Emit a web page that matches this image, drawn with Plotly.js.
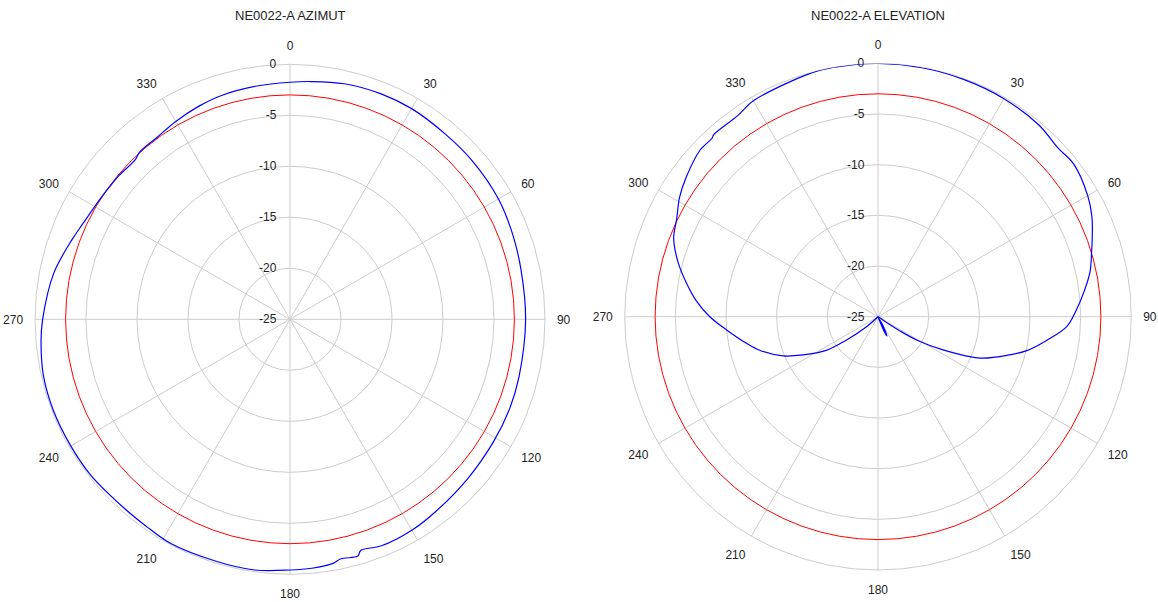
<!DOCTYPE html>
<html>
<head>
<meta charset="utf-8">
<script src="https://cdn.plot.ly/plotly-3.0.1.min.js"></script>
<style>html,body{margin:0;padding:0;background:#fff;}#chart{width:1158px;height:602px;}</style>
</head>
<body>
<div id="chart"></div>
<script>
// ---- data ----
const ANGLE_TICKS = [0, 30, 60, 90, 120, 150, 180, 210, 240, 270, 300, 330];
const RING_TICKS = [-25, -20, -15, -10, -5, 0];
const REF_LEVEL = -3;

const AZ_THETA = [0, 5, 13, 22, 30, 40, 49, 60, 69, 78, 90, 104, 112, 121, 132, 143, 150, 158, 163, 164, 168, 170, 175, 180, 188, 197, 208, 215, 221, 232, 240, 249, 257, 265, 270, 281, 290, 295, 302, 306, 310, 316, 318, 324, 330, 337, 343, 352, 360];
const AZ_GAIN  = [-1.76, -1.6, -1.3, -1.16, -1.15, -1.3, -1.32, -1.4, -1.63, -1.84, -1.9, -1.85, -1.75, -1.72, -1.6, -1.35, -1.12, -1.05, -1.3, -0.85, -1.0, -0.7, -0.5, -0.42, -0.18, -0.2, -0.1, -0.3, -0.36, -0.2, -0.18, -0.14, -0.2, -0.5, -0.75, -1.4, -2.24, -2.65, -2.95, -3.05, -3.1, -3.2, -2.95, -2.9, -2.6, -2.27, -2.05, -1.9, -1.76];

const EL_THETA = [0, 10, 20, 30, 40, 47, 52, 60, 65, 70, 73, 78, 83, 88, 93, 98, 103, 106, 112, 117, 121, 123, 125, 128, 150, 153, 155, 157, 160, 226, 229, 233.6, 237, 243, 247.5, 254, 258.6, 265, 270, 275, 280, 285, 291, 296, 301, 306, 313, 317, 318, 325, 330, 339, 347, 354, 360];
const EL_GAIN  = [0, -0.05, -0.1, -0.15, -0.3, -0.65, -0.5, -1.1, -1.7, -2.5, -2.95, -3.6, -4.5, -5.4, -6.35, -8.2, -10, -11.4, -14.1, -17.8, -20.5, -22.5, -24.2, -25, -24.3, -23.5, -22.9, -23.4, -25, -25, -23.5, -21.1, -18.9, -16.7, -14.9, -12.9, -11.75, -10, -8.4, -7.0, -5.8, -4.6, -3.4, -2.9, -2.15, -1.6, -0.95, -0.95, -0.8, -0.8, -0.4, -0.25, 0, 0, 0];

const REF_THETA = [];
for (let a = 0; a <= 360; a += 5) REF_THETA.push(a);
const REF_GAIN = REF_THETA.map(() => REF_LEVEL);

// ---- styling ----
const FONT = 'Arial, "Liberation Sans", sans-serif';
const GRID = '#cccccc';

function polarLayout(domain) {
  return {
    domain: domain,
    bgcolor: '#ffffff',
    angularaxis: {
      rotation: 90,
      direction: 'clockwise',
      layer: 'below traces',
      tickmode: 'array',
      tickvals: ANGLE_TICKS,
      ticktext: ANGLE_TICKS.map(String),
      showline: true,
      linecolor: GRID,
      linewidth: 1,
      gridcolor: GRID,
      gridwidth: 1,
      ticks: 'outside',
      ticklen: 9,
      tickcolor: 'rgba(0,0,0,0)',
      tickfont: {family: FONT, size: 12, color: '#222222'}
    },
    radialaxis: {
      range: [-25, 0],
      angle: 90,
      side: 'counterclockwise',
      layer: 'below traces',
      tickmode: 'array',
      tickvals: RING_TICKS,
      ticktext: RING_TICKS.map(String),
      tickangle: 90,
      showline: false,
      gridcolor: GRID,
      gridwidth: 1,
      ticks: 'outside',
      ticklen: 9,
      tickcolor: 'rgba(0,0,0,0)',
      tickfont: {family: FONT, size: 12, color: '#222222'}
    }
  };
}

const traces = [
  {type: 'scatterpolar', mode: 'lines', subplot: 'polar', theta: REF_THETA, r: REF_GAIN,
   line: {color: '#ff0000', width: 1}, hoverinfo: 'skip', cliponaxis: false},
  {type: 'scatterpolar', mode: 'lines', subplot: 'polar', theta: AZ_THETA, r: AZ_GAIN,
   line: {color: '#0000ff', width: 1.2, shape: 'spline', smoothing: 1}, cliponaxis: false},
  {type: 'scatterpolar', mode: 'lines', subplot: 'polar2', theta: REF_THETA, r: REF_GAIN,
   line: {color: '#ff0000', width: 1}, hoverinfo: 'skip', cliponaxis: false},
  {type: 'scatterpolar', mode: 'lines', subplot: 'polar2', theta: EL_THETA, r: EL_GAIN,
   line: {color: '#0000ff', width: 1.2, shape: 'spline', smoothing: 1}, cliponaxis: false}
];

const layout = {
  width: 1158, height: 602,
  margin: {l: 0, r: 0, t: 0, b: 0},
  paper_bgcolor: '#ffffff',
  showlegend: false,
  polar: polarLayout({x: [0.03022, 0.47064], y: [0.04601, 0.89319]}),
  polar2: polarLayout({x: [0.53946, 0.97694], y: [0.05316, 0.89468]}),
  annotations: [
    {text: 'NE0022-A AZIMUT', x: 290 / 1158, y: 1 - 16 / 602, xref: 'paper', yref: 'paper',
     showarrow: false, xanchor: 'center', yanchor: 'middle', font: {family: FONT, size: 13, color: '#222222'}},
    {text: 'NE0022-A ELEVATION', x: 878 / 1158, y: 1 - 16 / 602, xref: 'paper', yref: 'paper',
     showarrow: false, xanchor: 'center', yanchor: 'middle', font: {family: FONT, size: 13, color: '#222222'}}
  ]
};

Plotly.newPlot('chart', traces, layout, {displayModeBar: false, staticPlot: true});
</script>
</body>
</html>
